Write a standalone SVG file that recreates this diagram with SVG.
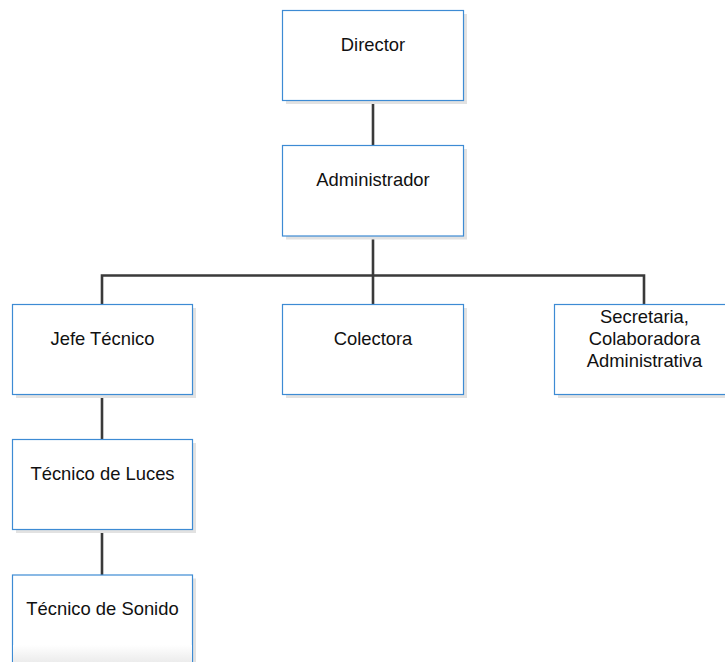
<svg xmlns="http://www.w3.org/2000/svg" width="725" height="662" viewBox="0 0 725 662">
  <style>
    .shadow { fill: #e2e2e2; }
    .box { fill: #ffffff; stroke: #3d8bd4; stroke-width: 1.2; }
    .label { font-family: "Liberation Sans", Arial, sans-serif; font-size: 18.4px; fill: #111111; text-anchor: middle; }
    .link { fill: none; stroke: #3a3a3a; stroke-width: 2.6; }
  </style>
  <defs>
    <linearGradient id="fadeBottom" x1="0" y1="0" x2="0" y2="1">
      <stop offset="0" stop-color="#ffffff"/>
      <stop offset="1" stop-color="#ececec"/>
    </linearGradient>
  </defs>
  <rect width="725" height="662" fill="#ffffff"/>

  <!-- connectors -->
  <g id="connectors">
    <line class="link" x1="373" y1="100.5" x2="373" y2="145.5"/>
    <line class="link" x1="373" y1="236" x2="373" y2="304.5"/>
    <polyline class="link" points="102,304.5 102,275.5 644,275.5 644,304.5"/>
    <line class="link" x1="102" y1="394.5" x2="102" y2="439.5"/>
    <line class="link" x1="102" y1="529.5" x2="102" y2="575"/>
  </g>

  <g id="director">
    <rect class="shadow" x="286" y="14" width="181" height="90"/>
    <rect class="box" x="282.5" y="10.5" width="181" height="90"/>
    <text class="label" x="373" y="50.5">Director</text>
  </g>

  <g id="administrador">
    <rect class="shadow" x="286" y="149" width="181" height="90.5"/>
    <rect class="box" x="282.5" y="145.5" width="181" height="90.5"/>
    <text class="label" x="373" y="186">Administrador</text>
  </g>

  <g id="jefe-tecnico">
    <rect class="shadow" x="16" y="308" width="180" height="90"/>
    <rect class="box" x="12.5" y="304.5" width="180" height="90"/>
    <text class="label" x="102.5" y="344.5">Jefe Técnico</text>
  </g>

  <g id="colectora">
    <rect class="shadow" x="286" y="308" width="181" height="90"/>
    <rect class="box" x="282.5" y="304.5" width="181" height="90"/>
    <text class="label" x="373" y="344.5">Colectora</text>
  </g>

  <g id="secretaria">
    <rect class="shadow" x="558" y="308" width="181" height="90"/>
    <rect class="box" x="554.5" y="304.5" width="181" height="90"/>
    <text class="label" x="644.5" y="323">Secretaria,</text>
    <text class="label" x="644.5" y="345">Colaboradora</text>
    <text class="label" x="644.5" y="367">Administrativa</text>
  </g>

  <g id="tecnico-luces">
    <rect class="shadow" x="16" y="443" width="180" height="90"/>
    <rect class="box" x="12.5" y="439.5" width="180" height="90"/>
    <text class="label" x="102.5" y="479.5">Técnico de Luces</text>
  </g>

  <g id="tecnico-sonido">
    <rect class="shadow" x="16" y="578.5" width="180" height="90"/>
    <rect class="box" x="12.5" y="575" width="180" height="90"/>
    <rect x="13" y="645" width="179" height="17" fill="url(#fadeBottom)"/>
    <text class="label" x="102.5" y="615">Técnico de Sonido</text>
  </g>
</svg>
